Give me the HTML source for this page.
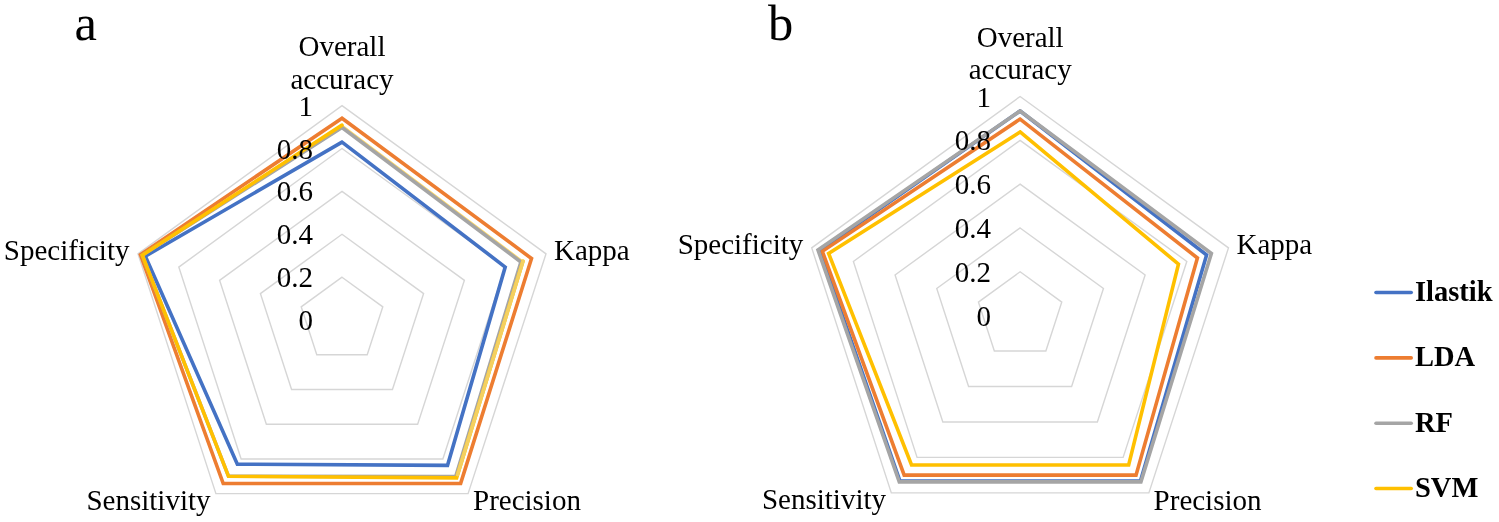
<!DOCTYPE html>
<html lang="en"><head><meta charset="utf-8"><title>Radar charts</title>
<style>
html,body{margin:0;padding:0;background:#fff;}
body{width:1499px;height:522px;overflow:hidden;}
svg{display:block;font-variant-ligatures:none;font-kerning:none;}
</style></head><body>
<svg width="1499" height="522" viewBox="0 0 1499 522" font-family="'Liberation Serif', 'Times New Roman', serif" fill="#000">
<rect width="1499" height="522" fill="#fff"/>
<polygon points="342.00,277.20 382.80,306.84 367.22,354.81 316.78,354.81 301.20,306.84" fill="none" stroke="#D6D6D6" stroke-width="1.4"/>
<polygon points="342.00,234.30 423.60,293.59 392.43,389.51 291.57,389.51 260.40,293.59" fill="none" stroke="#D6D6D6" stroke-width="1.4"/>
<polygon points="342.00,191.40 464.40,280.33 417.65,424.22 266.35,424.22 219.60,280.33" fill="none" stroke="#D6D6D6" stroke-width="1.4"/>
<polygon points="342.00,148.50 505.20,267.07 442.86,458.93 241.14,458.93 178.80,267.07" fill="none" stroke="#D6D6D6" stroke-width="1.4"/>
<polygon points="342.00,105.60 546.00,253.82 468.08,493.63 215.92,493.63 138.00,253.82" fill="none" stroke="#D6D6D6" stroke-width="1.4"/>
<polyline points="342.00,142.07 505.20,267.07 447.53,465.35 237.35,464.13 145.34,256.20 342.00,142.07" fill="none" stroke="#4472C4" stroke-width="3.6" stroke-linejoin="miter" stroke-linecap="round"/>
<polyline points="342.00,118.26 531.52,258.52 460.64,483.40 223.23,483.57 140.45,254.61 342.00,118.26" fill="none" stroke="#ED7D31" stroke-width="3.6" stroke-linejoin="miter" stroke-linecap="round"/>
<polyline points="342.00,126.51 521.83,261.67" fill="none" stroke="#FFD966" stroke-width="3.6" stroke-linejoin="miter" stroke-linecap="round"/>
<polyline points="342.00,127.48 520.91,261.97 455.72,476.63 228.53,476.28 142.28,255.21 342.00,127.48" fill="none" stroke="#A5A5A5" stroke-width="3.6" stroke-linejoin="miter" stroke-linecap="round"/>
<polyline points="522.95,261.31 456.61,477.84 228.53,476.28 142.28,255.21 342.00,125.12" fill="none" stroke="#FFC000" stroke-width="3.6" stroke-linejoin="miter" stroke-linecap="round"/>
<path d="M522.95,261.31 L457.60,474.59" fill="none" stroke="#F4D060" stroke-width="3.6" stroke-linecap="round"/>
<text x="313.0" y="330.1" text-anchor="end" font-size="29">0</text>
<text x="313.0" y="287.2" text-anchor="end" font-size="29">0.2</text>
<text x="313.0" y="244.3" text-anchor="end" font-size="29">0.4</text>
<text x="313.0" y="201.4" text-anchor="end" font-size="29">0.6</text>
<text x="313.0" y="158.5" text-anchor="end" font-size="29">0.8</text>
<text x="313.0" y="115.6" text-anchor="end" font-size="29">1</text>
<text x="342.0" y="55.6" text-anchor="middle" font-size="29">Overall</text>
<text x="342.0" y="88.6" text-anchor="middle" font-size="29">accuracy</text>
<text x="554.0" y="260.0" text-anchor="start" font-size="29">Kappa</text>
<text x="473.0" y="509.7" text-anchor="start" font-size="29">Precision</text>
<text x="210.5" y="509.7" text-anchor="end" font-size="29">Sensitivity</text>
<text x="129.5" y="260.0" text-anchor="end" font-size="29">Specificity</text>
<polygon points="1020.10,271.78 1061.78,302.06 1045.86,351.05 994.34,351.05 978.42,302.06" fill="none" stroke="#D6D6D6" stroke-width="1.4"/>
<polygon points="1020.10,227.96 1103.45,288.52 1071.61,386.50 968.59,386.50 936.75,288.52" fill="none" stroke="#D6D6D6" stroke-width="1.4"/>
<polygon points="1020.10,184.14 1145.13,274.98 1097.37,421.95 942.83,421.95 895.07,274.98" fill="none" stroke="#D6D6D6" stroke-width="1.4"/>
<polygon points="1020.10,140.32 1186.80,261.44 1123.13,457.40 917.07,457.40 853.40,261.44" fill="none" stroke="#D6D6D6" stroke-width="1.4"/>
<polygon points="1020.10,96.50 1228.48,247.89 1148.88,492.86 891.32,492.86 811.72,247.89" fill="none" stroke="#D6D6D6" stroke-width="1.4"/>
<polyline points="1020.10,110.96 1206.60,255.00 1140.38,481.16 899.94,480.98 819.85,250.53 1020.10,110.96" fill="none" stroke="#4472C4" stroke-width="3.6" stroke-linejoin="miter" stroke-linecap="round"/>
<polyline points="1020.10,119.07 1197.43,257.98 1136.01,475.13 904.19,475.13 822.35,251.35 1020.10,119.07" fill="none" stroke="#ED7D31" stroke-width="3.6" stroke-linejoin="miter" stroke-linecap="round"/>
<polyline points="1020.10,110.96 1211.39,253.45 1140.90,481.87 899.30,481.87 817.97,249.93 1020.10,110.96" fill="none" stroke="#A5A5A5" stroke-width="3.6" stroke-linejoin="miter" stroke-linecap="round"/>
<polyline points="1020.10,131.99 1178.47,264.14 1128.66,465.03 911.54,465.03 828.60,253.38 1020.10,131.99" fill="none" stroke="#FFC000" stroke-width="3.6" stroke-linejoin="miter" stroke-linecap="round"/>
<text x="991.0" y="325.6" text-anchor="end" font-size="29">0</text>
<text x="991.0" y="281.8" text-anchor="end" font-size="29">0.2</text>
<text x="991.0" y="238.0" text-anchor="end" font-size="29">0.4</text>
<text x="991.0" y="194.1" text-anchor="end" font-size="29">0.6</text>
<text x="991.0" y="150.3" text-anchor="end" font-size="29">0.8</text>
<text x="991.0" y="106.5" text-anchor="end" font-size="29">1</text>
<text x="1020.2" y="46.6" text-anchor="middle" font-size="29">Overall</text>
<text x="1020.2" y="79.0" text-anchor="middle" font-size="29">accuracy</text>
<text x="1236.5" y="254.3" text-anchor="start" font-size="29">Kappa</text>
<text x="1153.6" y="509.5" text-anchor="start" font-size="29">Precision</text>
<text x="886.0" y="509.3" text-anchor="end" font-size="29">Sensitivity</text>
<text x="803.3" y="254.0" text-anchor="end" font-size="29">Specificity</text>
<text x="74.6" y="40.2" font-size="50.5">a</text>
<text x="768" y="40.2" font-size="50.5">b</text>
<line x1="1376" x2="1411.2" y1="292.5" y2="292.5" stroke="#4472C4" stroke-width="3.6" stroke-linecap="round"/>
<text x="1415" y="301.0" font-size="28.5" font-weight="bold">Ilastik</text>
<line x1="1376" x2="1411.2" y1="357.9" y2="357.9" stroke="#ED7D31" stroke-width="3.6" stroke-linecap="round"/>
<text x="1415" y="366.4" font-size="28.5" font-weight="bold">LDA</text>
<line x1="1376" x2="1411.2" y1="423.2" y2="423.2" stroke="#A5A5A5" stroke-width="3.6" stroke-linecap="round"/>
<text x="1415" y="431.7" font-size="28.5" font-weight="bold">RF</text>
<line x1="1376" x2="1411.2" y1="488.5" y2="488.5" stroke="#FFC000" stroke-width="3.6" stroke-linecap="round"/>
<text x="1415" y="497.0" font-size="28.5" font-weight="bold">SVM</text>
</svg>
</body></html>
